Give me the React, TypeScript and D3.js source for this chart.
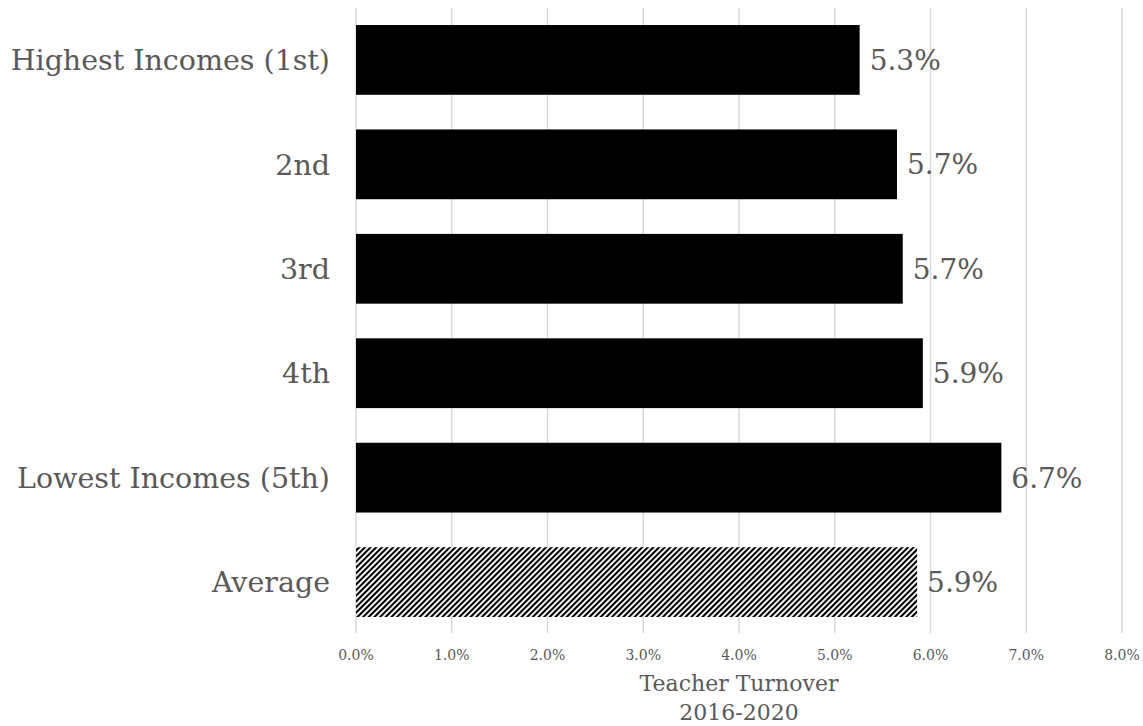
import React, { useRef, useEffect } from 'react';
import * as d3 from 'd3';

const categories = ['Highest Incomes (1st)', '2nd', '3rd', '4th', 'Lowest Incomes (5th)', 'Average'];
const values = [5.26, 5.65, 5.71, 5.92, 6.74, 5.86];
const valueLabels = ['5.3%', '5.7%', '5.7%', '5.9%', '6.7%', '5.9%'];
const xTicks = [0, 1, 2, 3, 4, 5, 6, 7, 8];
const titleLines = ['Teacher Turnover', '2016-2020'];

const FONT = 'Georgia, "DejaVu Serif", serif';
const TEXT = '#595959';

const App = () => {
  const ref = useRef<SVGSVGElement | null>(null);

  useEffect(() => {
    if (!ref.current) return;
    const svg = d3.select(ref.current);
    svg.selectAll('*').remove();

    const x = d3.scaleLinear().domain([0, 8]).range([356, 1122]);
    const y = d3.scaleBand<string>().domain(categories).range([8, 634]).paddingInner(0.332).paddingOuter(0.163);

    // hatch pattern for the average bar
    const defs = svg.append('defs');
    const pat = defs.append('pattern')
      .attr('id', 'hatch')
      .attr('patternUnits', 'userSpaceOnUse')
      .attr('width', 4)
      .attr('height', 4)
      .attr('patternTransform', 'rotate(45)');
    pat.append('rect').attr('width', 4).attr('height', 4).attr('fill', '#fff');
    pat.append('rect').attr('width', 2.1).attr('height', 4).attr('fill', '#000');

    // gridlines
    svg.append('g').selectAll('line')
      .data(xTicks)
      .join('line')
      .attr('x1', d => x(d)).attr('x2', d => x(d))
      .attr('y1', 8).attr('y2', 633)
      .attr('stroke', '#d9d9d9')
      .attr('stroke-width', 1.5);

    // tick labels
    svg.append('g').selectAll('text')
      .data(xTicks)
      .join('text')
      .attr('x', d => x(d))
      .attr('y', 660)
      .attr('text-anchor', 'middle')
      .style('font-family', FONT)
      .style('font-size', '14px')
      .attr('fill', TEXT)
      .text(d => d.toFixed(1) + '%');

    // bars
    svg.append('g').selectAll('rect')
      .data(values)
      .join('rect')
      .attr('x', x(0))
      .attr('y', (_, i) => y(categories[i])!)
      .attr('width', d => x(d) - x(0))
      .attr('height', y.bandwidth())
      .attr('fill', (_, i) => categories[i] === 'Average' ? 'url(#hatch)' : '#000');

    // value labels
    svg.append('g').selectAll('text')
      .data(values)
      .join('text')
      .attr('x', d => x(d) + 10)
      .attr('y', (_, i) => y(categories[i])! + y.bandwidth() / 2)
      .attr('dy', '0.36em')
      .style('font-family', FONT)
      .style('font-size', '28px')
      .attr('fill', TEXT)
      .text((_, i) => valueLabels[i]);

    // category labels
    svg.append('g').selectAll('text')
      .data(categories)
      .join('text')
      .attr('x', 330)
      .attr('y', d => y(d)! + y.bandwidth() / 2)
      .attr('dy', '0.36em')
      .attr('text-anchor', 'end')
      .style('font-family', FONT)
      .style('font-size', '28.5px')
      .attr('fill', TEXT)
      .text(d => d);

    // axis title
    svg.append('g').selectAll('text')
      .data(titleLines)
      .join('text')
      .attr('x', (x(0) + x(8)) / 2)
      .attr('y', (_, i) => 691 + i * 29)
      .attr('text-anchor', 'middle')
      .style('font-family', FONT)
      .style('font-size', '22px')
      .attr('fill', TEXT)
      .text(d => d);
  }, []);

  return (
    <svg
      ref={ref}
      width={1143}
      height={726}
      style={{ position: 'absolute', left: 0, top: 0, background: '#fff' }}
    />
  );
};

export default App;
